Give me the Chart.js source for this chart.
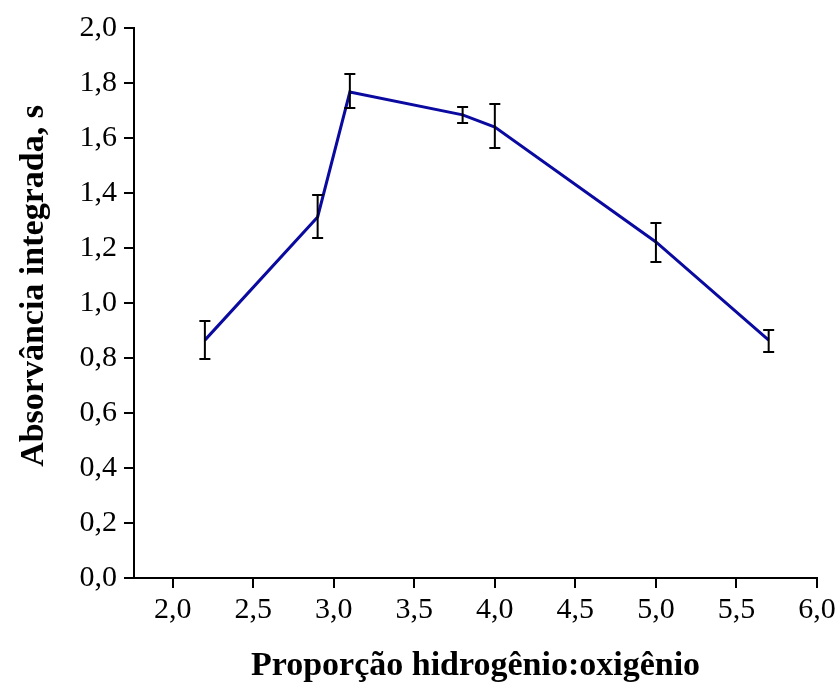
<!DOCTYPE html>
<html>
<head>
<meta charset="utf-8">
<script src="https://cdn.jsdelivr.net/npm/chart.js@4/dist/chart.umd.min.js"></script>
<style>
  html, body { margin: 0; padding: 0; background: #fff; }
  #wrap { width: 840px; height: 682px; }
</style>
</head>
<body>
<div id="wrap"><canvas id="c" width="840" height="682"></canvas></div>
<script>
// Hydrogen:oxygen ratio and integrated absorbance (mean with error range)
const ratios = [2.2, 2.9, 3.1, 3.8, 4.0, 5.0, 5.7];
const absorbance = [0.865, 1.313, 1.767, 1.684, 1.64, 1.222, 0.865];
const errLow = [0.796, 1.236, 1.709, 1.655, 1.564, 1.149, 0.822];
const errHigh = [0.935, 1.393, 1.833, 1.713, 1.724, 1.291, 0.902];

const xTicks = [2.0, 2.5, 3.0, 3.5, 4.0, 4.5, 5.0, 5.5, 6.0];
const yTicks = [0.0, 0.2, 0.4, 0.6, 0.8, 1.0, 1.2, 1.4, 1.6, 1.8, 2.0];

const xTitle = 'Proporção hidrogênio:oxigênio';
const yTitle = 'Absorvância integrada, s';

const fmt = v => Number(v).toFixed(1).replace('.', ',');
const tickFont = { family: '"Liberation Serif", "Times New Roman", serif', size: 30 };
const titleFont = 'bold 34px "Liberation Serif", "Times New Roman", serif';

const errorBars = {
  id: 'errorBars',
  afterDatasetsDraw(chart) {
    const { ctx, scales: { x, y } } = chart;
    ctx.save();
    ctx.strokeStyle = '#000';
    ctx.lineWidth = 2;
    const cap = 5.5;
    ratios.forEach((r, i) => {
      const px = x.getPixelForValue(r);
      const top = y.getPixelForValue(errHigh[i]);
      const bot = y.getPixelForValue(errLow[i]);
      ctx.beginPath();
      ctx.moveTo(px, top); ctx.lineTo(px, bot);
      ctx.moveTo(px - cap, top); ctx.lineTo(px + cap, top);
      ctx.moveTo(px - cap, bot); ctx.lineTo(px + cap, bot);
      ctx.stroke();
    });
    ctx.restore();
  }
};

const axisTitles = {
  id: 'axisTitles',
  afterDraw(chart) {
    const { ctx, chartArea } = chart;
    ctx.save();
    ctx.fillStyle = '#000';
    ctx.font = titleFont;
    ctx.textAlign = 'center';
    ctx.textBaseline = 'alphabetic';
    ctx.fillText(xTitle, (chartArea.left + chartArea.right) / 2, 675);
    ctx.translate(43, 286);
    ctx.rotate(-Math.PI / 2);
    ctx.fillText(yTitle, 0, 0);
    ctx.restore();
  }
};

new Chart(document.getElementById('c'), {
  type: 'line',
  data: {
    datasets: [{
      data: ratios.map((r, i) => ({ x: r, y: absorbance[i] })),
      borderColor: '#0A0AA0',
      borderWidth: 3,
      pointRadius: 0,
      tension: 0,
      fill: false
    }]
  },
  options: {
    responsive: false,
    animation: false,
    devicePixelRatio: 1,
    layout: { padding: { left: 0, right: 23, top: 28, bottom: 0 } },
    plugins: { legend: { display: false }, tooltip: { enabled: false } },
    scales: {
      x: {
        type: 'linear',
        min: 1.76,
        max: 6.0,
        afterBuildTicks: s => { s.ticks = xTicks.map(v => ({ value: v })); },
        afterFit: s => { s.height = 682 - 578; },
        grid: { drawOnChartArea: false, drawTicks: true, tickLength: 10, color: '#000', lineWidth: 2 },
        border: { display: true, color: '#000', width: 2 },
        ticks: { color: '#000', font: tickFont, padding: 4, maxRotation: 0, callback: v => fmt(v) }
      },
      y: {
        type: 'linear',
        min: 0,
        max: 2.0,
        afterBuildTicks: s => { s.ticks = yTicks.map(v => ({ value: v })); },
        afterFit: s => { s.width = 134; },
        grid: { drawOnChartArea: false, drawTicks: true, tickLength: 10, color: '#000', lineWidth: 2 },
        border: { display: true, color: '#000', width: 2 },
        ticks: { color: '#000', font: tickFont, padding: 7, callback: v => fmt(v) }
      }
    }
  },
  plugins: [errorBars, axisTitles]
});
</script>
</body>
</html>
